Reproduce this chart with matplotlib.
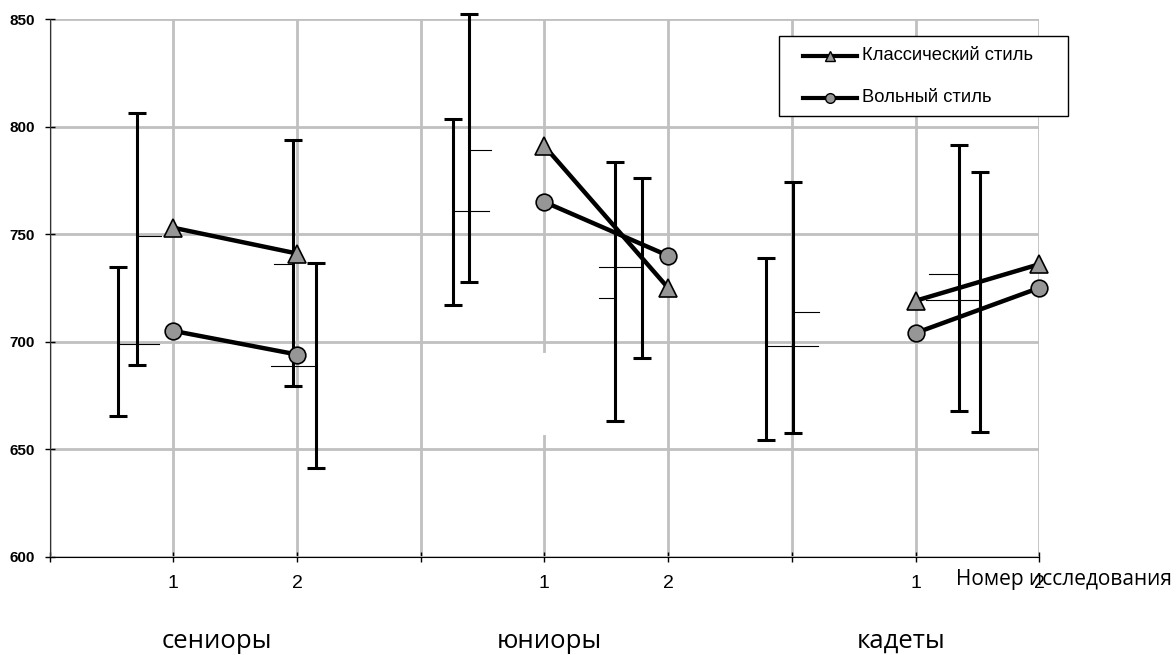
import matplotlib
matplotlib.use("Agg")
import matplotlib.pyplot as plt
from matplotlib.lines import Line2D
from matplotlib.patches import Rectangle

# study positions on the category axis (seniors 1,2 / juniors 4,5 / cadets 7,8)
x_pos = [1, 2, 4, 5, 7, 8]
classic = [753, 741, 791, 725, 719, 736]
free = [705, 694, 765, 740, 704, 725]

# error bars (x, low, mid, high) and end of the thin mid tick
err_x = [0.55, 0.704, 1.965, 2.151, 3.259, 3.390, 4.571, 4.789, 5.791, 6.010, 7.354, 7.521]
err_low = [665.6, 689.2, 679.3, 641.3, 717.1, 727.7, 663.0, 692.5, 654.3, 657.6, 667.5, 657.9]
err_mid = [698.8, 749.2, 735.9, 688.7, 760.8, 789.1, 720.4, 734.5, 697.9, 713.9, 731.5, 719.3]
err_high = [734.7, 806.3, 793.7, 736.5, 803.6, 852.5, 783.8, 776.3, 738.7, 774.2, 791.5, 779.1]
tick_end = [0.887, 0.90, 1.814, 1.787, 3.555, 3.566, 4.444, 4.444, 6.214, 6.222, 7.107, 7.085]

tick_labels = ["", "1", "2", "", "1", "2", "", "1", "2"]
groups = ["сениоры", "юниоры", "кадеты"]
group_x = [217, 549, 901]  # pixel centres
series_names = ["Классический стиль", "Вольный стиль"]

W, H = 1176, 655
fig = plt.figure(figsize=(W / 100, H / 100), dpi=100)


# pixel coords (from top-left) -> figure fractions
def fx(p):
    return p / W


def fy(p):
    return 1 - p / H


ax = fig.add_axes([fx(49.6), fy(556.5), fx(1039.2) - fx(49.6), fy(19.3) - fy(556.5)])

ax.set_xlim(0, 8)
ax.set_ylim(600, 850)
ax.set_xticks(range(9))
ax.set_xticklabels(tick_labels, fontsize=14, family="Liberation Sans")
ax.set_yticks([600, 650, 700, 750, 800, 850])
ax.set_yticklabels(["600", "650", "700", "750", "800", "850"], fontsize=11,
                   fontweight="bold", family="Liberation Sans")

ax.grid(True, color="#c0c0c0", lw=2)
ax.set_axisbelow(True)
for s in ["top", "right"]:
    ax.spines[s].set_visible(False)
ax.spines["left"].set_color("#333333")
ax.spines["bottom"].set_color("black")
ax.tick_params(axis="x", direction="inout", length=7, width=1, pad=10)
ax.tick_params(axis="y", direction="inout", length=7, width=1, pad=7)

# gap in the gridline under juniors
ax.plot([4, 4], [657.6, 693.9], color="white", lw=3, zorder=1)

mid = err_mid
ax.errorbar(err_x, mid,
            yerr=[[m - l for m, l in zip(mid, err_low)], [h - m for m, h in zip(mid, err_high)]],
            fmt="none", ecolor="black", elinewidth=2.2, capsize=6.7, capthick=2.2,
            zorder=3, clip_on=False)
for x, m, e in zip(err_x, mid, tick_end):
    ax.plot([x, e], [m, m], color="black", lw=0.8, zorder=3)

for i in range(3):
    sl = slice(2 * i, 2 * i + 2)
    ax.plot(x_pos[sl], classic[sl], color="black", lw=3.2, marker="^", ms=13,
            mfc="#969696", mec="black", mew=1.2, zorder=4, clip_on=False)
    ax.plot(x_pos[sl], free[sl], color="black", lw=3.2, marker="o", ms=12,
            mfc="#969696", mec="black", mew=1.2, zorder=4, clip_on=False)

# legend box
fig.patches.append(Rectangle((fx(779), fy(116)), fx(1068) - fx(779), fy(36) - fy(116),
                             transform=fig.transFigure, fill=True, facecolor="white",
                             edgecolor="black", lw=1, zorder=5))
for name, mk, yy in zip(series_names, ["^", "o"], [56, 98]):
    fig.lines.append(Line2D([fx(803), fx(857)], [fy(yy), fy(yy)], color="black", lw=3,
                            transform=fig.transFigure, zorder=6))
    fig.lines.append(Line2D([fx(830)], [fy(yy)], marker=mk, ms=7, mfc="#969696",
                            mec="black", mew=1, ls="none", transform=fig.transFigure, zorder=7))
    fig.text(fx(862), fy(yy), name, ha="left", va="center", fontsize=13.2,
             family="Liberation Sans", zorder=7)

fig.text(fx(1172), fy(579), "Номер исследования", ha="right", va="center",
         fontsize=15, family="Open Sans")
for g, gx in zip(groups, group_x):
    fig.text(fx(gx), fy(641), g, ha="center", va="center", fontsize=18.5, family="Open Sans")

fig.savefig("out.png", dpi=100)
